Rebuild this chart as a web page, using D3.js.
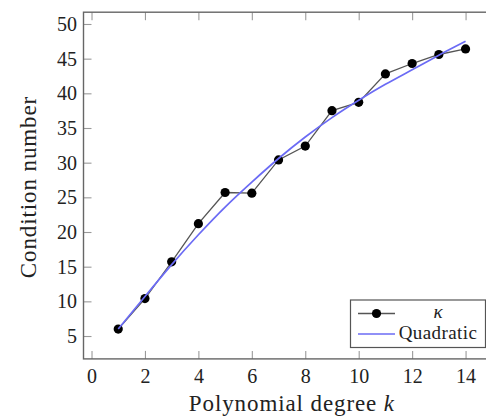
<!DOCTYPE html>
<html>
<head>
<meta charset="utf-8">
<script src="https://cdn.jsdelivr.net/npm/d3@7"></script>
<style>
  html, body { margin: 0; padding: 0; background: #fff; }
  svg { display: block; }
  text { font-family: "Liberation Serif", "Times New Roman", serif; fill: #222; }
</style>
</head>
<body>
<svg id="chart" width="486" height="420"></svg>
<script>
// Polynomial degree vs. measured condition number, with a quadratic trend
const degrees   = [1, 2, 3, 4, 5, 6, 7, 8, 9, 10, 11, 12, 13, 14];
const kappa     = [6.0, 10.4, 15.7, 21.2, 25.7, 25.6, 30.4, 32.4, 37.5, 38.7, 42.8, 44.3, 45.6, 46.4];
const quadratic = [6.0, 10.7, 15.3, 19.6, 23.6, 27.2, 30.6, 33.7, 36.5, 39.0, 41.3, 43.4, 45.5, 47.5];

const xTicks = [0, 2, 4, 6, 8, 10, 12, 14];
const yTicks = [5, 10, 15, 20, 25, 30, 35, 40, 45, 50];

const xLabel = "Polynomial degree ";
const xLabelVar = "k";
const yLabel = "Condition number";
const legendLabels = ["\u03BA", "Quadratic"];

const svg = d3.select("#chart");

const plotL = 83.5, plotR = 500.3, plotT = 12.2, plotB = 358.9;

const x = d3.scaleLinear().domain([-0.3, 15.3]).range([plotL, plotR]);
const y = d3.scaleLinear().domain([1.7, 51.7]).range([plotB, plotT]);

const tickLen = 8;

// axes with inward ticks
const gx = svg.append("g")
  .attr("transform", `translate(0,${plotB})`)
  .call(d3.axisBottom(x).tickValues(xTicks).tickSizeInner(-tickLen).tickSizeOuter(0).tickPadding(9.5));
const gxTop = svg.append("g")
  .attr("transform", `translate(0,${plotT})`)
  .call(d3.axisTop(x).tickValues(xTicks).tickSizeInner(-tickLen).tickSizeOuter(0).tickFormat(""));
const gy = svg.append("g")
  .attr("transform", `translate(${plotL},0)`)
  .call(d3.axisLeft(y).tickValues(yTicks).tickSizeInner(-tickLen).tickSizeOuter(0).tickPadding(6.5));
const gyRight = svg.append("g")
  .attr("transform", `translate(${plotR},0)`)
  .call(d3.axisRight(y).tickValues(yTicks).tickSizeInner(-tickLen).tickSizeOuter(0).tickFormat(""));

[gx, gxTop, gy, gyRight].forEach(g => {
  g.select(".domain").remove();
  g.selectAll(".tick line").attr("stroke", "#9a9a9a").attr("stroke-width", 1.1);
  g.selectAll(".tick text")
    .attr("font-family", "Liberation Serif, serif")
    .attr("font-size", 20)
    .attr("fill", "#222");
});

// frame
svg.append("rect")
  .attr("x", plotL).attr("y", plotT)
  .attr("width", plotR - plotL).attr("height", plotB - plotT)
  .attr("fill", "none")
  .attr("stroke", "#666")
  .attr("stroke-width", 1.4);

const pts = degrees.map((d, i) => ({ d, k: kappa[i], q: quadratic[i] }));

// measured condition numbers
svg.append("path")
  .datum(pts)
  .attr("fill", "none")
  .attr("stroke", "#555")
  .attr("stroke-width", 1.3)
  .attr("d", d3.line().x(p => x(p.d)).y(p => y(p.k)));

svg.append("g").selectAll("circle")
  .data(pts)
  .join("circle")
  .attr("cx", p => x(p.d))
  .attr("cy", p => y(p.k))
  .attr("r", 4.6)
  .attr("fill", "#000");

// quadratic trend
svg.append("path")
  .datum(pts)
  .attr("fill", "none")
  .attr("stroke", "#6b6bf5")
  .attr("stroke-width", 1.7)
  .attr("d", d3.line().curve(d3.curveNatural).x(p => x(p.d)).y(p => y(p.q)));

// axis labels
const xl = svg.append("text")
  .attr("x", (plotL + plotR) / 2)
  .attr("y", 411)
  .attr("text-anchor", "middle")
  .attr("font-size", 23)
  .attr("letter-spacing", 0.9);
xl.append("tspan").text(xLabel);
xl.append("tspan").attr("font-style", "italic").text(xLabelVar);

svg.append("text")
  .attr("transform", `translate(35.5,${(plotT + plotB) / 2 + 1.5}) rotate(-90)`)
  .attr("text-anchor", "middle")
  .attr("font-size", 23)
  .attr("letter-spacing", 0.9)
  .text(yLabel);

// legend
const lgRight = plotR - 14.8, lgBottom = plotB - 11.4;
const lgW = 135, lgH = 47.5;
const lgX = lgRight - lgW, lgY = lgBottom - lgH;
const lg = svg.append("g");
lg.append("rect")
  .attr("x", lgX).attr("y", lgY)
  .attr("width", lgW).attr("height", lgH)
  .attr("fill", "#fff")
  .attr("stroke", "#555")
  .attr("stroke-width", 1.2);

const sx0 = lgX + 7.5, sx1 = lgX + 44.5, row1 = lgY + 13.5, row2 = lgY + 34;
lg.append("line")
  .attr("x1", sx0).attr("x2", sx1).attr("y1", row1).attr("y2", row1)
  .attr("stroke", "#555").attr("stroke-width", 1.3);
lg.append("circle")
  .attr("cx", (sx0 + sx1) / 2).attr("cy", row1).attr("r", 4.6).attr("fill", "#000");
lg.append("line")
  .attr("x1", sx0).attr("x2", sx1).attr("y1", row2).attr("y2", row2)
  .attr("stroke", "#6b6bf5").attr("stroke-width", 1.7);

const textCx = lgX + 87.5;
lg.append("text")
  .attr("x", textCx).attr("y", row1 + 4.5)
  .attr("text-anchor", "middle")
  .attr("font-size", 19)
  .attr("font-style", "italic")
  .text(legendLabels[0]);
lg.append("text")
  .attr("x", textCx).attr("y", row2 + 4.5)
  .attr("text-anchor", "middle")
  .attr("font-size", 19)
  .attr("letter-spacing", 0.4)
  .text(legendLabels[1]);
</script>
</body>
</html>
